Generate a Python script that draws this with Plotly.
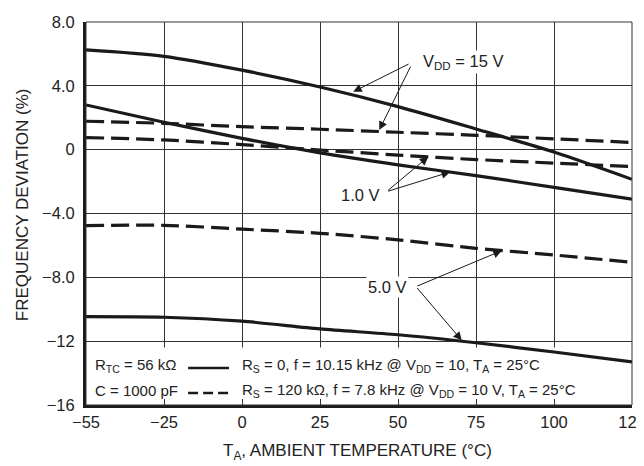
import plotly.graph_objects as go

# ---- data ----
temps = [-55, -25, 0, 25, 50, 75, 100, 125]
vdd15_solid = [6.25, 5.85, 4.98, 3.93, 2.70, 1.30, -0.15, -1.86]
vdd1_solid = [2.80, 1.72, 0.71, -0.20, -0.95, -1.63, -2.36, -3.10]
vdd5_solid = [-10.46, -10.50, -10.75, -11.23, -11.60, -12.10, -12.68, -13.30]
vdd15_dash = [1.78, 1.65, 1.44, 1.28, 1.09, 0.90, 0.68, 0.45]
vdd1_dash = [0.76, 0.61, 0.32, -0.02, -0.34, -0.62, -0.84, -1.06]
vdd5_dash = [-4.76, -4.74, -4.98, -5.24, -5.65, -6.18, -6.60, -7.06]

x_ticks = [-55, -25, 0, 25, 50, 75, 100, 125]
x_ticklabels = ["\u221255", "\u221225", "0", "25", "50", "75", "100", "125"]
y_ticks = [8, 4, 0, -4, -8, -12, -16]
y_ticklabels = ["8.0", "4.0", "0", "\u22124.0", "\u22128.0", "\u221212", "\u221216"]


def pos(t):
    # the temperature axis is drawn with equally spaced grid divisions
    if t <= -25:
        return (t + 55) / 30.0
    return 1 + (t + 25) / 25.0


xp = [pos(t) for t in temps]

FONT = "Liberation Sans, Arial, Helvetica, sans-serif"
INK = "#1a1a1a"
TXT = "#222"

fig = go.Figure()
series = [
    (vdd15_solid, "solid"), (vdd1_solid, "solid"), (vdd5_solid, "solid"),
    (vdd15_dash, "18px,7px"), (vdd1_dash, "18px,7px"), (vdd5_dash, "18px,7px"),
]
for ys, dash in series:
    fig.add_trace(go.Scatter(
        x=xp, y=ys, mode="lines",
        line=dict(color=INK, width=3.2, dash=dash, shape="spline", smoothing=0.8),
        showlegend=False, hoverinfo="skip"))

shapes = [
    # legend box (white, above grid, below curves)
    dict(type="rect", xref="x", yref="y", x0=0, x1=7, y0=-16, y1=-12.4,
         fillcolor="white", line=dict(width=0), layer="between"),
    # thin frame on top/right
    dict(type="rect", xref="paper", yref="paper", x0=0, x1=1, y0=0, y1=1,
         line=dict(color="#333", width=1), layer="above"),
    # legend samples
    dict(type="line", xref="paper", yref="paper", x0=0.187, x1=0.262,
         y0=0.0966, y1=0.0966, line=dict(color=INK, width=2.5)),
    dict(type="line", xref="paper", yref="paper", x0=0.187, x1=0.262,
         y0=0.0313, y1=0.0313, line=dict(color=INK, width=2.5, dash="10px,5px")),
]

ann = []
# axis titles
ann.append(dict(xref="paper", yref="paper", x=-0.117, y=0.522, textangle=-90,
                text="FREQUENCY DEVIATION (%)", showarrow=False,
                font=dict(size=17, family=FONT, color=TXT),
                xanchor="center", yanchor="middle"))
ann.append(dict(xref="paper", yref="paper", x=0.498, y=-0.124,
                text="T<sub>A</sub>, AMBIENT TEMPERATURE (°C)", showarrow=False,
                font=dict(size=17, family=FONT, color=TXT),
                xanchor="center", yanchor="middle"))
# legend texts
lf = dict(size=15, family=FONT, color=TXT)
ann += [
    dict(xref="paper", yref="paper", x=0.012, y=0.104, xanchor="left", yanchor="middle",
         text="R<sub>TC</sub> = 56 kΩ", showarrow=False, font=lf),
    dict(xref="paper", yref="paper", x=0.012, y=0.039, xanchor="left", yanchor="middle",
         text="C = 1000 pF", showarrow=False, font=lf),
    dict(xref="paper", yref="paper", x=0.282, y=0.104, xanchor="left", yanchor="middle",
         text="R<sub>S</sub> = 0, f = 10.15 kHz @ V<sub>DD</sub> = 10, T<sub>A</sub> = 25°C",
         showarrow=False, font=lf),
    dict(xref="paper", yref="paper", x=0.282, y=0.039, xanchor="left", yanchor="middle",
         text="R<sub>S</sub> = 120 kΩ, f = 7.8 kHz @ V<sub>DD</sub> = 10 V, T<sub>A</sub> = 25°C",
         showarrow=False, font=lf),
]
# curve labels
tf = dict(size=16.5, family=FONT, color=TXT)
ann += [
    dict(x=4.30, y=5.51, xref="x", yref="y", text="V<sub>DD</sub> = 15 V", showarrow=False,
         xanchor="left", yanchor="middle", font=tf, bgcolor="white"),
    dict(x=3.79, y=-2.84, xref="x", yref="y", text="1.0 V", showarrow=False,
         xanchor="right", yanchor="middle", font=tf),
    dict(x=3.87, y=-8.62, xref="x", yref="y", text="5.0 V", showarrow=False,
         xanchor="center", yanchor="middle", font=tf, bgcolor="white"),
]
arrows = [
    ((3.426, 3.63), (4.154, 5.41)),
    ((3.76, 1.23), (4.17, 5.30)),
    ((4.388, -0.44), (3.854, -2.63)),
    ((4.667, -1.40), (3.854, -2.63)),
    ((5.33, -6.33), (4.23, -8.58)),
    ((4.817, -11.95), (4.23, -8.58)),
]
for (hx, hy), (tx, ty) in arrows:
    ann.append(dict(x=hx, y=hy, ax=tx, ay=ty, xref="x", yref="y", axref="x", ayref="y",
                    text="", showarrow=True, arrowhead=2, arrowsize=1.7, arrowwidth=1,
                    arrowcolor=INK, standoff=0))

# the page body adds an 8 px offset, so the figure is sized to fill the rest
fig.update_layout(
    width=636, height=458,
    margin=dict(l=78, r=12, t=14, b=61, autoexpand=False),
    paper_bgcolor="white", plot_bgcolor="white",
    shapes=shapes, annotations=ann,
    font=dict(family=FONT, size=16, color=TXT),
)
fig.update_xaxes(
    range=[0, 7], tickvals=[pos(t) for t in x_ticks], ticktext=x_ticklabels,
    showgrid=True, gridcolor="#333", gridwidth=1, zeroline=False,
    showline=True, linecolor=INK, linewidth=3, automargin=False,
    ticks="inside", ticklen=6, tickcolor="#333", tickwidth=1,
    ticklabelstandoff=0, ticklabeloverflow="allow",
    tickfont=dict(size=16.5, family=FONT, color=TXT),
)
fig.update_yaxes(
    range=[-16, 8], tickvals=y_ticks, ticktext=y_ticklabels,
    showgrid=True, gridcolor="#333", gridwidth=1, zeroline=False,
    showline=True, linecolor=INK, linewidth=3, ticks="", automargin=False,
    ticklabelstandoff=5, ticklabeloverflow="allow",
    tickfont=dict(size=16.5, family=FONT, color=TXT),
)

fig.write_html("out.html")
